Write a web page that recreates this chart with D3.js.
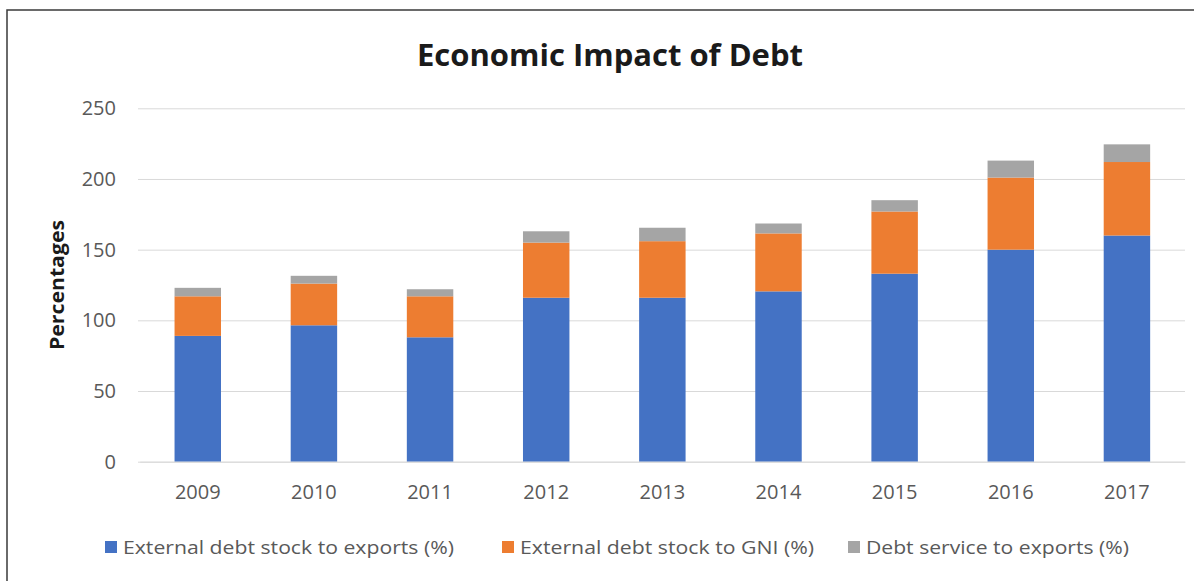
<!DOCTYPE html>
<html>
<head>
<meta charset="utf-8">
<script src="https://cdn.jsdelivr.net/npm/d3@7"></script>
<style>
  body { margin: 0; background: #fff; }
  text { font-family: "Open Sans", "Noto Sans", sans-serif; }
</style>
</head>
<body>
<div id="canvas"></div>
<script>
// data
var years = ["2009", "2010", "2011", "2012", "2013", "2014", "2015", "2016", "2017"];
var debtToExports = [89, 96.5, 88, 116, 116, 120.5, 133, 150, 160];
var debtToGNI = [28, 29.5, 29, 39, 40, 41, 44, 51, 52];
var serviceToExports = [6, 5.5, 5, 8, 9.5, 7, 8, 12, 12.5];
var seriesNames = ["External debt stock to exports (%)", "External debt stock to GNI (%)", "Debt service to exports (%)"];
var colors = ["#4472C4", "#ED7D31", "#A5A5A5"];
var yTicks = [0, 50, 100, 150, 200, 250];

var width = 1194, height = 581;

var svg = d3.select('#canvas')
    .append('svg')
    .attr('width', width)
    .attr('height', height);

svg.append('rect')
    .attr('width', width).attr('height', height)
    .style('fill', '#fff');

// chart frame (runs off the right and bottom edge)
svg.append('rect')
    .attr('x', 7).attr('y', 10)
    .attr('width', 1200).attr('height', 600)
    .style('fill', 'none')
    .style('stroke', '#3a3a3a')
    .style('stroke-width', 1.5);

var rows = years.map(function(y, i) {
    return { year: y, s0: debtToExports[i], s1: debtToGNI[i], s2: serviceToExports[i] };
});
var stacked = d3.stack().keys(["s0", "s1", "s2"])(rows);

var scaleX = d3.scaleBand()
    .domain(years)
    .range([139.7, 1185])
    .paddingInner(0.6)
    .paddingOuter(0.3);

var scaleY = d3.scaleLinear()
    .domain([0, 250])
    .range([461.7, 108.3]);

// gridlines + y labels
var axisY = d3.axisLeft(scaleY)
    .tickValues(yTicks)
    .tickSize(-(1185 - 138))
    .tickPadding(22);
var gY = svg.append('g')
    .attr('transform', 'translate(138,0)')
    .call(axisY);
gY.select('.domain').remove();
gY.selectAll('line').style('stroke', '#D9D9D9').style('stroke-width', 1);
gY.selectAll('text')
    .style('font-size', '20px')
    .style('fill', '#595959');

// bars
svg.append('g').selectAll('g')
    .data(stacked)
    .enter()
    .append('g')
    .style('fill', function(d, i) { return colors[i]; })
    .selectAll('rect')
    .data(function(d) { return d; })
    .enter()
    .append('rect')
    .attr('x', function(d) { return scaleX(d.data.year); })
    .attr('y', function(d) { return scaleY(d[1]); })
    .attr('width', scaleX.bandwidth())
    .attr('height', function(d) { return scaleY(d[0]) - scaleY(d[1]); });

// x axis labels
var axisX = d3.axisBottom(scaleX).tickSize(0).tickPadding(23);
var gX = svg.append('g')
    .attr('transform', 'translate(0,' + scaleY(0) + ')')
    .call(axisX);
gX.select('.domain').style('stroke', '#D9D9D9');
gX.selectAll('text')
    .style('font-size', '20px')
    .style('fill', '#595959');

// title
svg.append('text')
    .attr('x', 610).attr('y', 66)
    .attr('text-anchor', 'middle')
    .style('font-size', '31px')
    .style('font-weight', 'bold')
    .style('fill', '#1a1a1a')
    .text('Economic Impact of Debt');

// y axis title
svg.append('text')
    .attr('transform', 'translate(64,285) rotate(-90)')
    .attr('text-anchor', 'middle')
    .attr('textLength', 130)
    .attr('lengthAdjust', 'spacingAndGlyphs')
    .style('font-size', '19px')
    .style('font-weight', 'bold')
    .style('fill', '#1a1a1a')
    .text('Percentages');

// legend
var legendX = [105, 502, 848];
var legendLen = [331, 294, 263];
var legend = svg.append('g').selectAll('g')
    .data(seriesNames)
    .enter()
    .append('g')
    .attr('transform', function(d, i) { return 'translate(' + legendX[i] + ',547)'; });
legend.append('rect')
    .attr('x', 0).attr('y', -6)
    .attr('width', 12).attr('height', 12)
    .style('fill', function(d, i) { return colors[i]; });
legend.append('text')
    .attr('x', 18).attr('dy', '0.36em')
    .attr('textLength', function(d, i) { return legendLen[i]; })
    .attr('lengthAdjust', 'spacingAndGlyphs')
    .style('font-size', '19px')
    .style('fill', '#595959')
    .text(function(d) { return d; });
</script>
</body>
</html>
